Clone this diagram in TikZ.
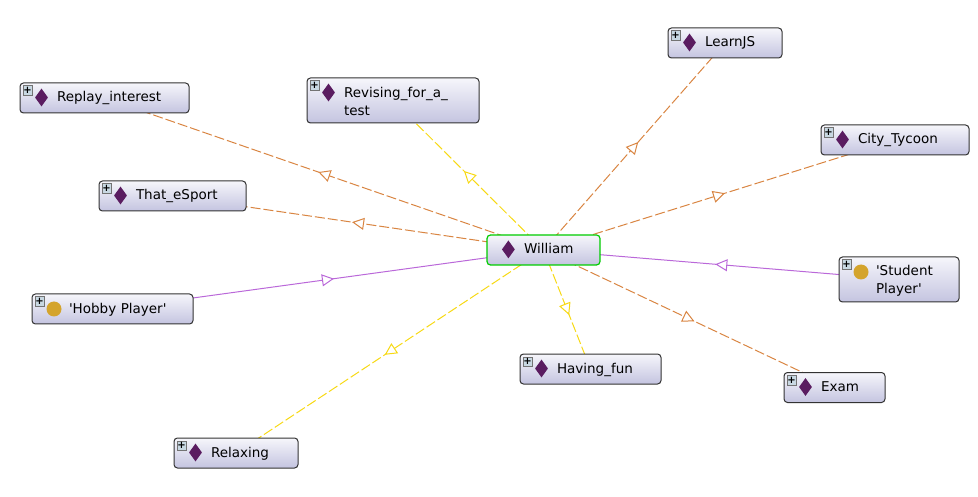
\documentclass[tikz,border=0pt]{standalone}
\usepackage{fontspec}
\setmainfont{DejaVu Sans}
\usetikzlibrary{arrows.meta,positioning,shapes.geometric,decorations.markings,backgrounds}
\definecolor{lineorange}{RGB}{217,133,66}
\definecolor{lineyellow}{RGB}{247,217,20}
\definecolor{linepurple}{RGB}{186,104,217}
\definecolor{indivcolor}{RGB}{90,28,96}
\definecolor{classcolor}{RGB}{212,164,44}
\definecolor{termtop}{RGB}{246,246,251}
\definecolor{termbottom}{RGB}{196,196,224}
\definecolor{plusfill}{RGB}{200,216,226}

\begin{document}
\begin{tikzpicture}[x=1pt,y=-1pt]
  % Styles
  \tikzset{
    term/.style={draw=black!80,line width=1pt,rounded corners=3.5pt,top color=termtop,bottom color=termbottom,
      minimum height=30pt,inner xsep=0pt,inner ysep=1pt,align=left,
      font=\fontsize{13.5}{18}\selectfont,
      execute at begin node={\leftskip=37pt\relax\leavevmode\rule[-4pt]{0pt}{16pt}}},
    plusbtn/.style={draw=black!55,line width=0.5pt,fill=plusfill,minimum size=9.5pt,inner sep=0pt,font=\fontsize{10}{10}\bfseries\selectfont},
    indiv/.style={diamond,fill=indivcolor,minimum width=13pt,minimum height=18pt,inner sep=0pt,aspect=0.72},
    klass/.style={circle,fill=classcolor,minimum size=15pt,inner sep=0pt},
    midtip/.style={postaction={decorate,decoration={markings,
      mark=at position 0.5 with {\begin{scope}[xshift=6pt]\arrow{Triangle[length=12pt,width=12pt,line width=1pt,fill=white]}\end{scope}}}}},
    typeedge/.style={line width=1pt,dash pattern=on 10pt off 3pt,midtip},
    oredge/.style={typeedge,lineorange},
    yeedge/.style={typeedge,lineyellow},
    puedge/.style={line width=1pt,linepurple,midtip}
  }
  \useasboundingbox (0,0) rectangle (978,497);

  %================= NODES =================
  \node[term,text width=169pt] (replay) at (104.5,98) {Replay\_interest};
  \node[term,text width=147pt] (esport) at (172.5,196) {That\_eSport};
  \node[term,text width=161pt] (hobby) at (112.5,309) {\textquotesingle Hobby Player\textquotesingle};
  \node[term,text width=124pt] (relax) at (236,453) {Relaxing};
  \node[term,text width=172pt,minimum height=45pt] (revise) at (393,100.5) {Revising\_for\_a\_\\test};
  \node[term,text width=114pt] (learn) at (725,43) {LearnJS};
  \node[term,text width=148pt] (city) at (895,140) {City\_Tycoon};
  \node[term,text width=120pt,minimum height=45pt] (student) at (899,279.5) {\textquotesingle Student\\Player\textquotesingle};
  \node[term,text width=141pt] (fun) at (590.5,369) {Having\_fun};
  \node[term,text width=101pt] (exam) at (834.5,387.5) {Exam};
  \node[term,text width=113pt,draw=green!80!black,line width=1.2pt] (william) at (543.5,250) {William};

  %================= ICONS =================
  \foreach \n in {replay,esport,hobby,relax,revise,learn,city,student,fun,exam}
    \node[plusbtn,below right=3pt and 3pt of \n.north west] (\n-plus) {+};
  \foreach \n in {replay,esport,relax,revise,learn,city,fun,exam,william}
    \node[indiv] (\n-icon) at ([shift={(22,15)}]\n.north west) {};
  \foreach \n in {hobby,student}
    \node[klass] (\n-icon) at ([shift={(22.5,15.5)}]\n.north west) {};

  %================= EDGES =================
  \begin{scope}[on background layer]
    \draw[oredge] (william.center) -- (replay.center);
    \draw[oredge] (william.center) -- (esport.center);
    \draw[oredge] (william.center) -- (learn.center);
    \draw[oredge] (william.center) -- (city.center);
    \draw[oredge] (william.center) -- (exam.center);
    \draw[yeedge] (william.center) -- (revise.center);
    \draw[yeedge] (william.center) -- (relax.center);
    \draw[yeedge] (william.center) -- (fun.center);
    \draw[puedge] (hobby.center) -- (william.center);
    \draw[puedge] (student.center) -- (william.center);
  \end{scope}
\end{tikzpicture}
\end{document}
